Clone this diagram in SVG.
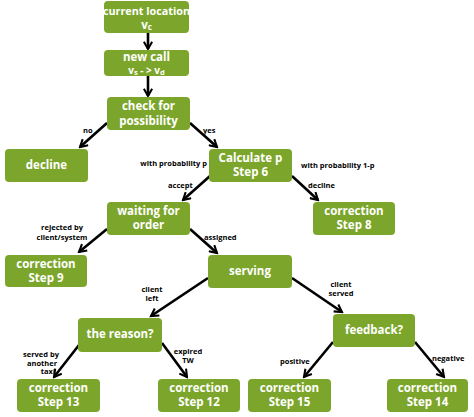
<svg xmlns="http://www.w3.org/2000/svg" width="474" height="417" viewBox="0 0 474 417">
<defs>
<style>
.n rect{fill:#7ca62b;}
.n text{fill:#fff;font-family:"Open Sans","DejaVu Sans",sans-serif;font-weight:bold;font-size:11.5px;text-anchor:middle;}
.c line{stroke:#000;stroke-width:2.6;marker-end:url(#ah);}
.l text{fill:#000;font-family:"Open Sans","DejaVu Sans",sans-serif;font-weight:bold;font-size:7.5px;}
</style>
<marker id="ah" viewBox="0 0 10 10" refX="8" refY="5" markerWidth="4" markerHeight="4" orient="auto" markerUnits="strokeWidth">
<path d="M1,1 L8,5 L1,9" fill="none" stroke="#000" stroke-width="2"/>
</marker>
</defs>
<rect width="474" height="417" fill="#fff"/>
<g class="c">
<line x1="148" y1="33" x2="148" y2="49"/>
<line x1="148" y1="76" x2="148" y2="96"/>
<line x1="107" y1="123" x2="80" y2="147"/>
<line x1="190" y1="123" x2="217" y2="147"/>
<line x1="210" y1="176" x2="183" y2="200"/>
<line x1="292" y1="176" x2="318" y2="200"/>
<line x1="107" y1="229" x2="79" y2="252"/>
<line x1="190" y1="229" x2="217" y2="253"/>
<line x1="208" y1="278" x2="151" y2="316"/>
<line x1="292" y1="278" x2="342" y2="312"/>
<line x1="79" y1="345" x2="54" y2="377"/>
<line x1="162" y1="343" x2="187" y2="377"/>
<line x1="333" y1="342" x2="304" y2="377"/>
<line x1="415" y1="342" x2="444" y2="377"/>
</g>
<g class="l">
<text x="83" y="133">no</text>
<text x="203" y="133">yes</text>
<text x="207" y="166" text-anchor="end">with probability p</text>
<text x="168" y="188">accept</text>
<text x="301" y="168">with probability 1-p</text>
<text x="308" y="188">decline</text>
<text x="62" y="230" text-anchor="middle">rejected by</text>
<text x="62" y="240" text-anchor="middle">client/system</text>
<text x="204" y="240">assigned</text>
<text x="152" y="292" text-anchor="middle">client</text>
<text x="152" y="301" text-anchor="middle">left</text>
<text x="341" y="287" text-anchor="middle">client</text>
<text x="341" y="296" text-anchor="middle">served</text>
<text x="41" y="357" text-anchor="middle">served by</text>
<text x="42" y="365.5" text-anchor="middle">another</text>
<text x="48" y="374" text-anchor="middle">taxi</text>
<text x="188" y="354" text-anchor="middle">expired</text>
<text x="188" y="362.5" text-anchor="middle">TW</text>
<text x="280" y="364">positive</text>
<text x="432" y="361">negative</text>
</g>
<g class="n" id="n-current"><rect x="104" y="1" width="85" height="32" rx="4"/><text x="146.5" y="15" style="font-size:10.8px">current location</text><text x="146.5" y="29">v<tspan style="font-size:8px" dy="1">c</tspan></text></g>
<g class="n" id="n-newcall"><rect x="104" y="50" width="85" height="26" rx="4"/><text x="146.5" y="61">new call</text><text x="146.5" y="73.5" style="font-size:10px">v<tspan style="font-size:7.5px" dy="1">s</tspan><tspan dy="-1"> - &gt; v</tspan><tspan style="font-size:7.5px" dy="1">d</tspan></text></g>
<g class="n" id="n-check"><rect x="107" y="97" width="83" height="33" rx="4"/><text x="148.5" y="110">check for</text><text x="148.5" y="124.5">possibility</text></g>
<g class="n" id="n-decline"><rect x="5" y="149" width="83" height="33" rx="4"/><text x="46.5" y="169">decline</text></g>
<g class="n" id="n-calc"><rect x="209" y="149" width="83" height="33" rx="4"/><text x="250.5" y="162">Calculate p</text><text x="250.5" y="176">Step 6</text></g>
<g class="n" id="n-step8"><rect x="313" y="202" width="82" height="33" rx="4"/><text x="354" y="215">correction</text><text x="354" y="229">Step 8</text></g>
<g class="n" id="n-waiting"><rect x="107" y="202" width="83" height="33" rx="4"/><text x="148.5" y="215">waiting for</text><text x="148.5" y="229">order</text></g>
<g class="n" id="n-step9"><rect x="5" y="255" width="82" height="32" rx="4"/><text x="46" y="268">correction</text><text x="46" y="282">Step 9</text></g>
<g class="n" id="n-serving"><rect x="208" y="255" width="84" height="33" rx="4"/><text x="250" y="275">serving</text></g>
<g class="n" id="n-reason"><rect x="78" y="318" width="84" height="34" rx="4"/><text x="120" y="338">the reason?</text></g>
<g class="n" id="n-feedback"><rect x="333" y="314" width="82" height="33" rx="4"/><text x="374" y="334">feedback?</text></g>
<g class="n" id="n-step13"><rect x="17" y="379" width="83" height="33" rx="4"/><text x="58.5" y="392">correction</text><text x="58.5" y="406">Step 13</text></g>
<g class="n" id="n-step12"><rect x="158" y="379" width="82" height="33" rx="4"/><text x="199" y="392">correction</text><text x="199" y="406">Step 12</text></g>
<g class="n" id="n-step15"><rect x="248" y="379" width="83" height="33" rx="4"/><text x="289.5" y="392">correction</text><text x="289.5" y="406">Step 15</text></g>
<g class="n" id="n-step14"><rect x="387" y="379" width="81" height="33" rx="4"/><text x="427.5" y="392">correction</text><text x="427.5" y="406">Step 14</text></g>
</svg>
